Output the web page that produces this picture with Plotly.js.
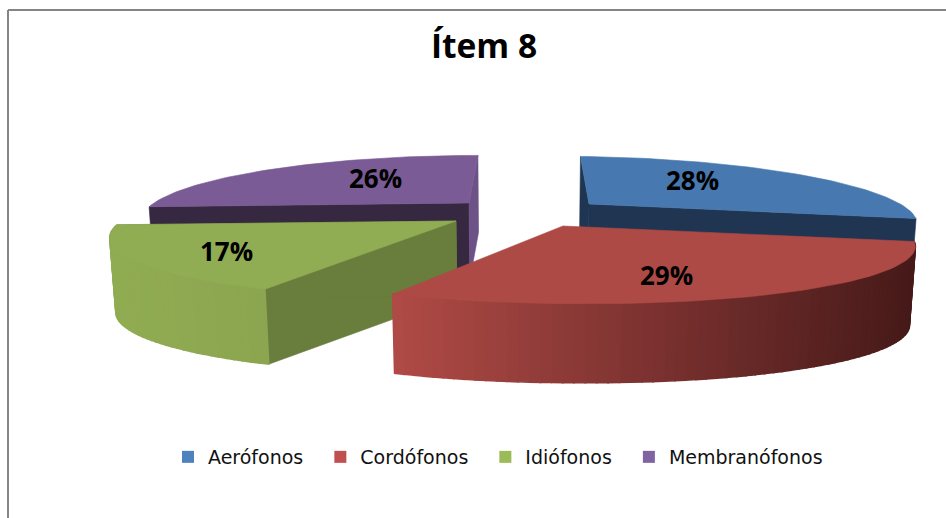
<!DOCTYPE html>
<html><head><meta charset="utf-8">
<script src="https://cdn.plot.ly/plotly-3.0.1.min.js"></script>
<style>html,body{margin:0;padding:0;background:#fff}</style></head>
<body><div id="chart" style="width:946px;height:518px"></div>
<script>
const categories = ["Aerófonos","Cordófonos","Idiófonos","Membranófonos"];
const percents = [28,29,17,26];
const chartTitle = "Ítem 8";

// styling / geometry of the 3D projection (separate from the data)
const swatch = ["#4f81bd","#c0504d","#9bbb59","#8064a2"];
const topCol = ["#4878b0","#ae4a46","#90ad54","#7a5b95"];
const wallCol = ["#1f3552",null,"#697d3d","#352840"];
const apexX = [589,563,456,469], apexY = [204,226,221,203];
const labelX = [692,666,226,375], labelY = [180,275,251,178];
const rxRight = [316,340,330,315], rxLeft = [316,330,334,315];
const vanishX = [545,530,490,515], tiltY = [3,4,0,0], depths = [77,79,75,77];
const RY = 59, K = 0.24;

function proj(i,r,deg){
  const a = deg*Math.PI/180, u = r*Math.sin(a), v = r*Math.cos(a), f = 1/(1+K*v);
  const rx = u>=0 ? rxRight[i] : rxLeft[i];
  return [vanishX[i]+(apexX[i]-vanishX[i]+rx*u)*f, apexY[i]-RY*v*f+tiltY[i]*Math.max(u,0)];
}
function down(i,p){ return [520+(p[0]-520)*0.985, p[1]+depths[i]]; }
function poly(pts,color,w){
  const c = pts.concat([pts[0]]);
  return {x:c.map(p=>p[0]),y:c.map(p=>p[1]),mode:"lines",fill:"toself",fillcolor:color,
    line:{color:color,width:w===undefined?0.6:w},hoverinfo:"skip",showlegend:false};
}
function mix(a,b,t){ return "rgb("+a.map((v,i)=>Math.round(v+(b[i]-v)*t)).join(",")+")"; }
const grads = [null,[[176,74,70],[70,26,25]],[[144,172,82],[140,165,80]],null];

const total = percents.reduce((s,v)=>s+v,0);
const starts = []; let acc = 0;
percents.forEach(v=>{starts.push(acc); acc += v/total*360;});

const traces = [];
[3,0,2,1].forEach(i=>{
  const a0 = starts[i], a1 = a0+percents[i]/total*360, ap = proj(i,0,0);
  const e0 = proj(i,1,a0), e1 = proj(i,1,a1);
  if(wallCol[i]) [e0,e1].forEach((e,j)=>{
    const col = (i===3 && j===1) ? "#6d5287" : wallCol[i];
    traces.push(poly([ap,e,down(i,e),down(i,ap)],col));
  });
  if(grads[i]){
    const n = Math.ceil((a1-a0)/1.5);
    for(let s=0;s<n;s++){
      const b0 = a0+(a1-a0)*s/n, b1 = a0+(a1-a0)*(s+1)/n;
      const p0 = proj(i,1,b0), p1 = proj(i,1,b1);
      const xmin = Math.min(e0[0],e1[0]), xmax = Math.max(e0[0],e1[0]);
      const t = Math.min(1,Math.max(0,((p0[0]+p1[0])/2-xmin)/(xmax-xmin)));
      traces.push(poly([p0,p1,down(i,p1),down(i,p0)],mix(grads[i][0],grads[i][1],t),1.6));
    }
  }
  const top = [ap];
  for(let s=0;s<=60;s++) top.push(proj(i,1,a0+(a1-a0)*s/60));
  traces.push(poly(top,topCol[i]));
});
categories.forEach((c,i)=>traces.push({x:[-100],y:[-100],mode:"markers",
  name:c+(i<categories.length-1?"\u00a0\u00a0":""),
  marker:{symbol:"square",size:12,color:swatch[i]},hoverinfo:"skip"}));

const layout = {
  width:946,height:518,margin:{l:0,r:0,t:0,b:0},paper_bgcolor:"#fff",plot_bgcolor:"#fff",
  xaxis:{range:[0,946],visible:false,fixedrange:true},
  yaxis:{range:[518,0],visible:false,fixedrange:true},
  title:{text:"<b>"+chartTitle+"</b>",x:484/946,xanchor:"center",y:1-46/518,yanchor:"middle",
    font:{family:"Open Sans",size:33.5,color:"#000"}},
  legend:{orientation:"h",x:498/946,xanchor:"center",y:1-457/518,yanchor:"middle",
    font:{family:"DejaVu Sans",size:19,color:"#111"},itemwidth:30,bgcolor:"rgba(0,0,0,0)"},
  annotations:percents.map((v,i)=>({x:labelX[i],y:labelY[i],xref:"x",yref:"y",text:"<b>"+v+"%</b>",showarrow:false,
    font:{family:"Open Sans",size:26,color:"#000"}})),
  shapes:[
    {type:"line",xref:"paper",yref:"paper",x0:8/946,x1:1,y0:1-10/518,y1:1-10/518,line:{color:"#858585",width:2}},
    {type:"line",xref:"paper",yref:"paper",x0:8/946,x1:8/946,y0:1-10/518,y1:0,line:{color:"#858585",width:2}}
  ]
};
Plotly.newPlot("chart",traces,layout,{displayModeBar:false,staticPlot:true});
</script></body></html>
